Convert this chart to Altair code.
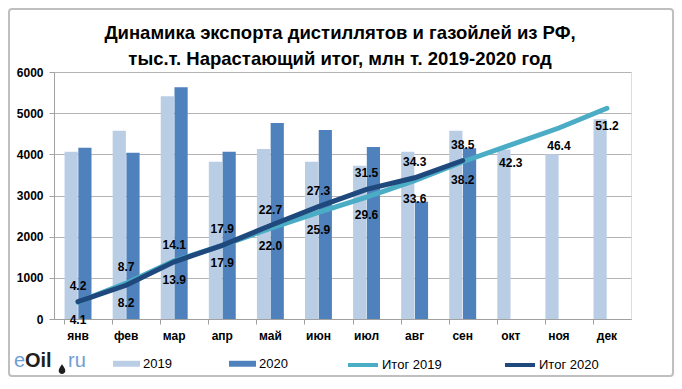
import altair as alt
import pandas as pd

months = ['янв', 'фев', 'мар', 'апр', 'май', 'июн', 'июл', 'авг', 'сен', 'окт', 'ноя', 'дек']
exp_2019 = [4060, 4570, 5410, 3820, 4130, 3820, 3720, 4060, 4570, 4120, 4000, 4850]
exp_2020 = [4160, 4040, 5630, 4060, 4760, 4590, 4180, 2850, 4150]
cum_2019 = [4.1, 8.7, 14.1, 17.9, 22.0, 25.9, 29.6, 33.6, 38.2, 42.3, 46.4, 51.2]
cum_2020 = [4.2, 8.2, 13.9, 17.9, 22.7, 27.3, 31.5, 34.3, 38.5]
pos_2019 = ['below', 'above', 'above', 'below', 'below', 'below', 'below', 'below',
            'below', 'below', 'below', 'below']
pos_2020 = ['above', 'below', 'below', 'above', 'above', 'above', 'above', 'above', 'above']
bar_series = ['2019', '2020']
line_series = ['Итог 2019', 'Итог 2020']
title_lines = ['Динамика экспорта дистиллятов и газойлей из РФ,',
               'тыс.т. Нарастающий итог, млн  т. 2019-2020 год']
logo_parts = ['e', 'Oil', 'ru']

n20 = len(exp_2020)
bars = pd.DataFrame({
    'month': months + months[:n20],
    'year': [bar_series[0]] * len(months) + [bar_series[1]] * n20,
    'value': exp_2019 + exp_2020,
})
lines = pd.DataFrame({
    'month': months + months[:n20],
    'series': [line_series[0]] * len(months) + [line_series[1]] * n20,
    'value': cum_2019 + cum_2020,
    'pos': pos_2019 + pos_2020,
})

FONT = 'Liberation Sans'
GRID = '#B4B4B4'
AXC = '#A0A0A0'

x_enc = alt.X('month:N', sort=months,
              scale=alt.Scale(paddingInner=0.44, paddingOuter=0.22),
              axis=alt.Axis(title=None, labelAngle=0, bandPosition=0,
                            labelFont=FONT, labelFontWeight='bold', labelFontSize=12,
                            labelColor='black', tickSize=5, labelPadding=6,
                            domainColor=AXC, tickColor=AXC, grid=False))

bar_layer = alt.Chart(bars).mark_bar().encode(
    x=x_enc,
    xOffset=alt.XOffset('year:N', sort=bar_series,
                        scale=alt.Scale(paddingInner=0.04, paddingOuter=0)),
    y=alt.Y('value:Q', scale=alt.Scale(domain=[0, 6000], nice=False),
            axis=alt.Axis(title=None, orient='left', values=list(range(0, 6001, 1000)),
                          format='d',
                          labelFont=FONT, labelFontWeight='bold', labelFontSize=12,
                          labelColor='black', tickSize=5, labelPadding=6,
                          domainColor=AXC, tickColor=AXC, gridColor=GRID, grid=True)),
    fill=alt.Fill('year:N', sort=bar_series,
                  scale=alt.Scale(domain=bar_series, range=['#B9CDE5', '#4F81BD']),
                  legend=alt.Legend(title=None, orient='none', legendX=59, legendY=278,
                                    direction='horizontal',
                                    symbolType='M-1,-0.22L1,-0.22L1,0.22L-1,0.22Z',
                                    symbolSize=729, symbolStrokeWidth=0,
                                    labelFont=FONT, labelFontSize=13, labelColor='black',
                                    labelOffset=3, columnPadding=57)),
)

y_right = alt.Y('value:Q', scale=alt.Scale(domain=[0, 60], nice=False),
                axis=alt.Axis(title=None, orient='right', values=list(range(0, 61, 10)),
                              format='.1f', labelFont=FONT, labelFontWeight='bold',
                              labelFontSize=12, labelColor='black', tickSize=5,
                              labelPadding=6, domainColor=AXC, tickColor=AXC, grid=False))
y_right_noaxis = alt.Y('value:Q', scale=alt.Scale(domain=[0, 60], nice=False), axis=None)

line_layer = alt.Chart(lines).mark_line(strokeWidth=5, strokeCap='round').encode(
    x=alt.X('month:N', sort=months),
    y=y_right,
    stroke=alt.Stroke('series:N', sort=line_series,
                      scale=alt.Scale(domain=line_series, range=['#4BACC6', '#1F497D']),
                      legend=alt.Legend(title=None, orient='none', legendX=292, legendY=276,
                                        direction='horizontal', symbolType='stroke',
                                        symbolSize=900, symbolStrokeWidth=4,
                                        labelFont=FONT, labelFontSize=13, labelColor='black',
                                        labelOffset=2, columnPadding=55)),
    order=alt.Order('series:N'),
)

def label_layer(pos, dy):
    return alt.Chart(lines).transform_filter(alt.datum.pos == pos).mark_text(
        font=FONT, fontSize=12, fontWeight='bold', color='black', baseline='middle', dy=dy
    ).encode(
        x=alt.X('month:N', sort=months),
        y=y_right_noaxis,
        text=alt.Text('value:Q', format='.1f'),
    )

right_group = alt.layer(line_layer, label_layer('above', -16), label_layer('below', 18))

logo_df = pd.DataFrame({'t': logo_parts})

def logo_part(i, color, xpos, weight):
    return alt.Chart(logo_df).transform_filter(alt.datum.t == logo_parts[i]).mark_text(
        font=FONT, fontSize=20, fontWeight=weight, color=color, align='left',
        baseline='alphabetic'
    ).encode(x=alt.value(xpos), y=alt.value(295), text='t:N')

logo_e = logo_part(0, '#6F9ED3', -40, 'normal')
logo_oil = logo_part(1, '#1E1E1E', -29, 'bold')
logo_ru = logo_part(2, '#6F9ED3', 14, 'normal')
logo_drop = alt.Chart(pd.DataFrame({'d': [0]})).mark_point(
    shape='M0,-1C0.45,-0.35 0.7,0 0.7,0.35A0.7,0.7 0 1 1 -0.7,0.35C-0.7,0 -0.45,-0.35 0,-1Z',
    filled=True, size=90, color='#1E1E1E', opacity=1
).encode(x=alt.value(8), y=alt.value(297))

title_df = pd.DataFrame({'line': [0]})
title_mark = alt.Chart(title_df).mark_text(
    text=title_lines, font=FONT, fontSize=18.5, fontWeight='bold', color='black',
    align='center', baseline='middle', lineHeight=26
).encode(x=alt.value(286), y=alt.value(-39))

border = alt.Chart(pd.DataFrame({'b': [0]})).mark_rect(
    fillOpacity=0, stroke='#BFBFBF', strokeWidth=2, cornerRadius=3
).encode(x=alt.value(-45), x2=alt.value(619), y=alt.value(-63), y2=alt.value(304))

chart = alt.layer(border, bar_layer, right_group, logo_e, logo_oil, logo_ru, logo_drop,
                  title_mark).resolve_scale(
    y='independent'
).properties(
    width=577, height=247,
    autosize=alt.AutoSizeParams(type='none'),
    padding={'left': 46, 'top': 64, 'right': 43, 'bottom': 58},
).configure_view(stroke=None).configure(background='white')

chart.save('out.html', embed_options={'renderer': 'svg', 'actions': False})
